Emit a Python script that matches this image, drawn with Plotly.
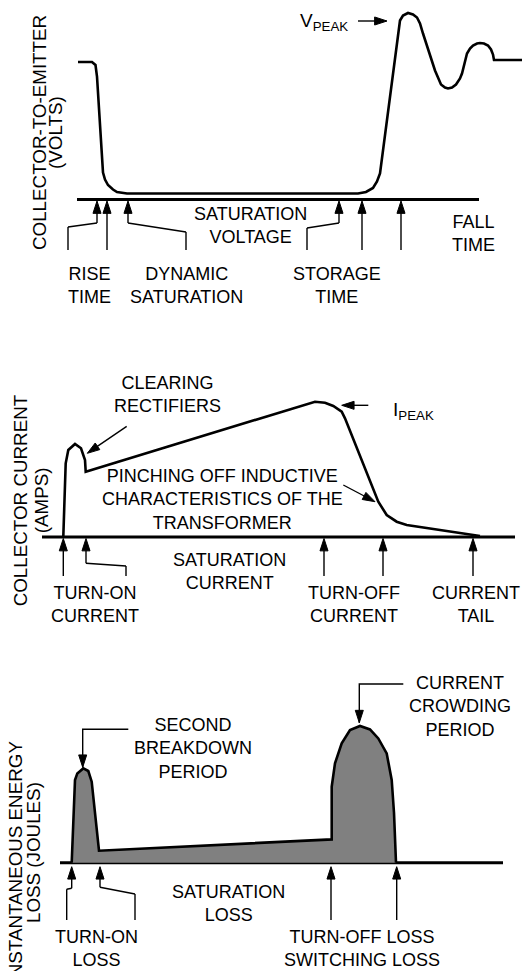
import plotly.graph_objects as go

FONT = "Liberation Sans, Arial, Helvetica, sans-serif"
W, H = 531, 971

# ---- panel 1: collector-to-emitter voltage (x in px, v = height above baseline)
VCE_T = [78, 92, 95.5, 97, 103, 105, 108, 113, 117, 127, 358, 366, 373, 377, 380,
         398, 400, 403, 408, 413, 417, 420, 423, 435, 438, 441, 445, 448, 452, 456,
         460, 462, 467, 470, 473, 477, 480, 484, 488, 491, 493, 494, 522]
VCE_V = [137.5, 137.5, 134.5, 123, 27, 20, 14.5, 10, 7.5, 6, 6, 7.5, 11.5, 18, 26,
         166, 179, 184, 186.5, 185, 182, 176, 166, 129, 121, 115, 112, 111, 112, 115,
         121, 126, 146, 151, 154, 156, 156.5, 156, 154, 150, 145, 139.5, 139.5]
BASE1_X = [77, 479]
LEADERS1 = [
    ([68, 68, 97, 97], [-50.5, -27.5, -23.5, -1.5]),
    ([107, 107], [-50.5, -1.5]),
    ([186, 186, 128, 128], [-50.5, -32.5, -23.5, -1.5]),
    ([307, 307, 339, 339], [-50.5, -28.5, -23.5, -1.5]),
    ([362, 362], [-50.5, -1.5]),
    ([401, 401], [-50.5, -1.5]),
    ([358, 387], [178.5, 178.5]),
]
LABELS1 = [
    ("SATURATION<br>VOLTAGE", 250.5, -25.8),
    ("FALL<br>TIME", 473, -33.8),
    ("RISE<br>TIME", 89, -85.5),
    ("DYNAMIC<br>SATURATION", 186, -85.5),
    ("STORAGE<br>TIME", 336.5, -85.5),
]
PEAK1 = ("V<sub>PEAK</sub>", 324, 178)
TITLE1 = [("COLLECTOR-TO-EMITTER", 39, 66.5), ("(VOLTS)", 55, 66.5)]

# ---- panel 2: collector current
IC_T = [63.3, 65.7, 68.3, 75, 81, 85, 85.7, 315, 325, 333.3, 341.7, 345, 378.3,
        386.7, 396.7, 406.7, 480]
IC_V = [0, 73.7, 87, 93, 88.7, 77, 65.3, 135.3, 134.3, 131, 125.3, 118.7, 35.3,
        22, 15.3, 12, 1]
BASE2_X = [42, 515]
LEADERS2 = [
    ([63.3, 63.3], [-39, -1.5]),
    ([126, 126, 86, 86], [-39, -29, -26.3, -1.5]),
    ([324, 324], [-39, -1.5]),
    ([383, 383], [-39, -1.5]),
    ([473, 473], [-39, -1.5]),
    ([126.7, 87.3], [110.7, 83.7]),
    ([368.3, 341.7], [131.7, 131.7]),
    ([343.3, 375], [52, 35.3]),
]
LABELS2 = [
    ("CLEARING<br>RECTIFIERS", 167, 142.3),
    ("PINCHING OFF INDUCTIVE<br>CHARACTERISTICS OF THE<br>TRANSFORMER", 222.5, 37.3),
    ("SATURATION<br>CURRENT", 229.3, -34.3),
    ("TURN-ON<br>CURRENT", 95.2, -67.2),
    ("TURN-OFF<br>CURRENT", 353.7, -67.2),
    ("CURRENT<br>TAIL", 476.2, -67.2),
]
PEAK2 = ("I<sub>PEAK</sub>", 413, 126)
TITLE2 = [("COLLECTOR CURRENT", 20.5, 36.2), ("(AMPS)", 41.5, 36.2)]

# ---- panel 3: instantaneous energy loss
LOSS_T = [71.7, 75, 77.3, 83.3, 88.3, 91.7, 99, 331.7, 331.7, 335, 341.7, 350, 360,
          370, 378.3, 386.7, 391.7, 394, 396]
LOSS_V = [0, 82.7, 89.3, 94.3, 91.7, 81, 12, 23.3, 76, 99.3, 119.3, 132.7, 136.7,
          133.3, 124.3, 109.3, 82.7, 50, 0]
BASE3_X = [60, 503]
LEADERS3 = [
    ([66.7, 66.7, 71.7, 71.7], [-57.3, -26.6, -25.6, -4]),
    ([135, 135, 100, 100], [-57.3, -31.3, -24.6, -4]),
    ([331, 331], [-57.3, -4]),
    ([396.7, 396.7], [-57.3, -4]),
    ([128.3, 82.7, 82.7], [133.4, 133.4, 95.4]),
    ([403.3, 359.3, 359.3], [178.7, 178.7, 140]),
]
LABELS3 = [
    ("SECOND<br>BREAKDOWN<br>PERIOD", 192.8, 114.7),
    ("CURRENT<br>CROWDING<br>PERIOD", 459.5, 156.2),
    ("SATURATION<br>LOSS", 228.6, -40.7),
    ("TURN-ON<br>LOSS", 96, -85.7),
    ("TURN-OFF LOSS<br>SWITCHING LOSS", 361.7, -85.7),
]
TITLE3 = [("INSTANTANEOUS ENERGY", 14.5, 0.7), ("LOSS (JOULES)", 33.5, 10.2)]

# pixel bands (top, bottom, baseline) of each panel
BANDS = [(0, 330, 199.5), (330, 650, 537), (650, 971, 862.7)]

fig = go.Figure()


def add_panel(i, wave_t, wave_v, base_x, leaders, labels, title, peak=None, fill=False):
    xa = "x" if i == 1 else f"x{i}"
    ya = "y" if i == 1 else f"y{i}"
    fig.add_trace(go.Scatter(x=base_x, y=[0, 0], mode="lines", xaxis=xa, yaxis=ya,
                             line=dict(color="black", width=3)))
    fig.add_trace(go.Scatter(
        x=wave_t, y=wave_v, mode="lines", xaxis=xa, yaxis=ya,
        line=dict(color="black", width=2.6),
        fill="tozeroy" if fill else None, fillcolor="#808080",
    ))
    for lx, ly in leaders:
        fig.add_trace(go.Scatter(
            x=lx, y=ly, mode="lines+markers", xaxis=xa, yaxis=ya,
            line=dict(color="black", width=1.4),
            marker=dict(symbol="arrow", angleref="previous", color="black", opacity=1,
                        size=[0] * (len(lx) - 1) + [13],
                        line=dict(width=1, color="black")),
        ))
    for txt, tx, tv in labels:
        fig.add_annotation(text=txt, x=tx, y=tv, xref=xa, yref=ya, showarrow=False,
                           font=dict(family=FONT, size=18, color="black"))
    for txt, tx, tv in title:
        fig.add_annotation(text=txt, x=tx, y=tv, xref=xa, yref=ya, showarrow=False,
                           textangle=-90, font=dict(family=FONT, size=18.8, color="black"))
    if peak:
        fig.add_annotation(text=peak[0], x=peak[1], y=peak[2], xref=xa, yref=ya,
                           showarrow=False, font=dict(family=FONT, size=19, color="black"))


add_panel(1, VCE_T, VCE_V, BASE1_X, LEADERS1, LABELS1, TITLE1, PEAK1)
add_panel(2, IC_T, IC_V, BASE2_X, LEADERS2, LABELS2, TITLE2, PEAK2)
add_panel(3, LOSS_T, LOSS_V, BASE3_X, LEADERS3, LABELS3, TITLE3, fill=True)

axis_style = dict(visible=False, showgrid=False, zeroline=False, fixedrange=True)
layout = dict(width=W, height=H, margin=dict(l=0, r=0, t=0, b=0),
              paper_bgcolor="white", plot_bgcolor="white", showlegend=False)
for i, (top, bot, base) in enumerate(BANDS, start=1):
    sfx = "" if i == 1 else str(i)
    layout[f"xaxis{sfx}"] = dict(range=[0, W], domain=[0, 1], anchor=f"y{sfx}", **axis_style)
    layout[f"yaxis{sfx}"] = dict(range=[base - bot, base - top],
                                 domain=[1 - bot / H, 1 - top / H], anchor=f"x{sfx}", **axis_style)
fig.update_layout(**layout)

fig.write_html("out.html", config={"displayModeBar": False},
               post_script="document.body.style.margin='0';document.body.style.overflow='hidden';")
